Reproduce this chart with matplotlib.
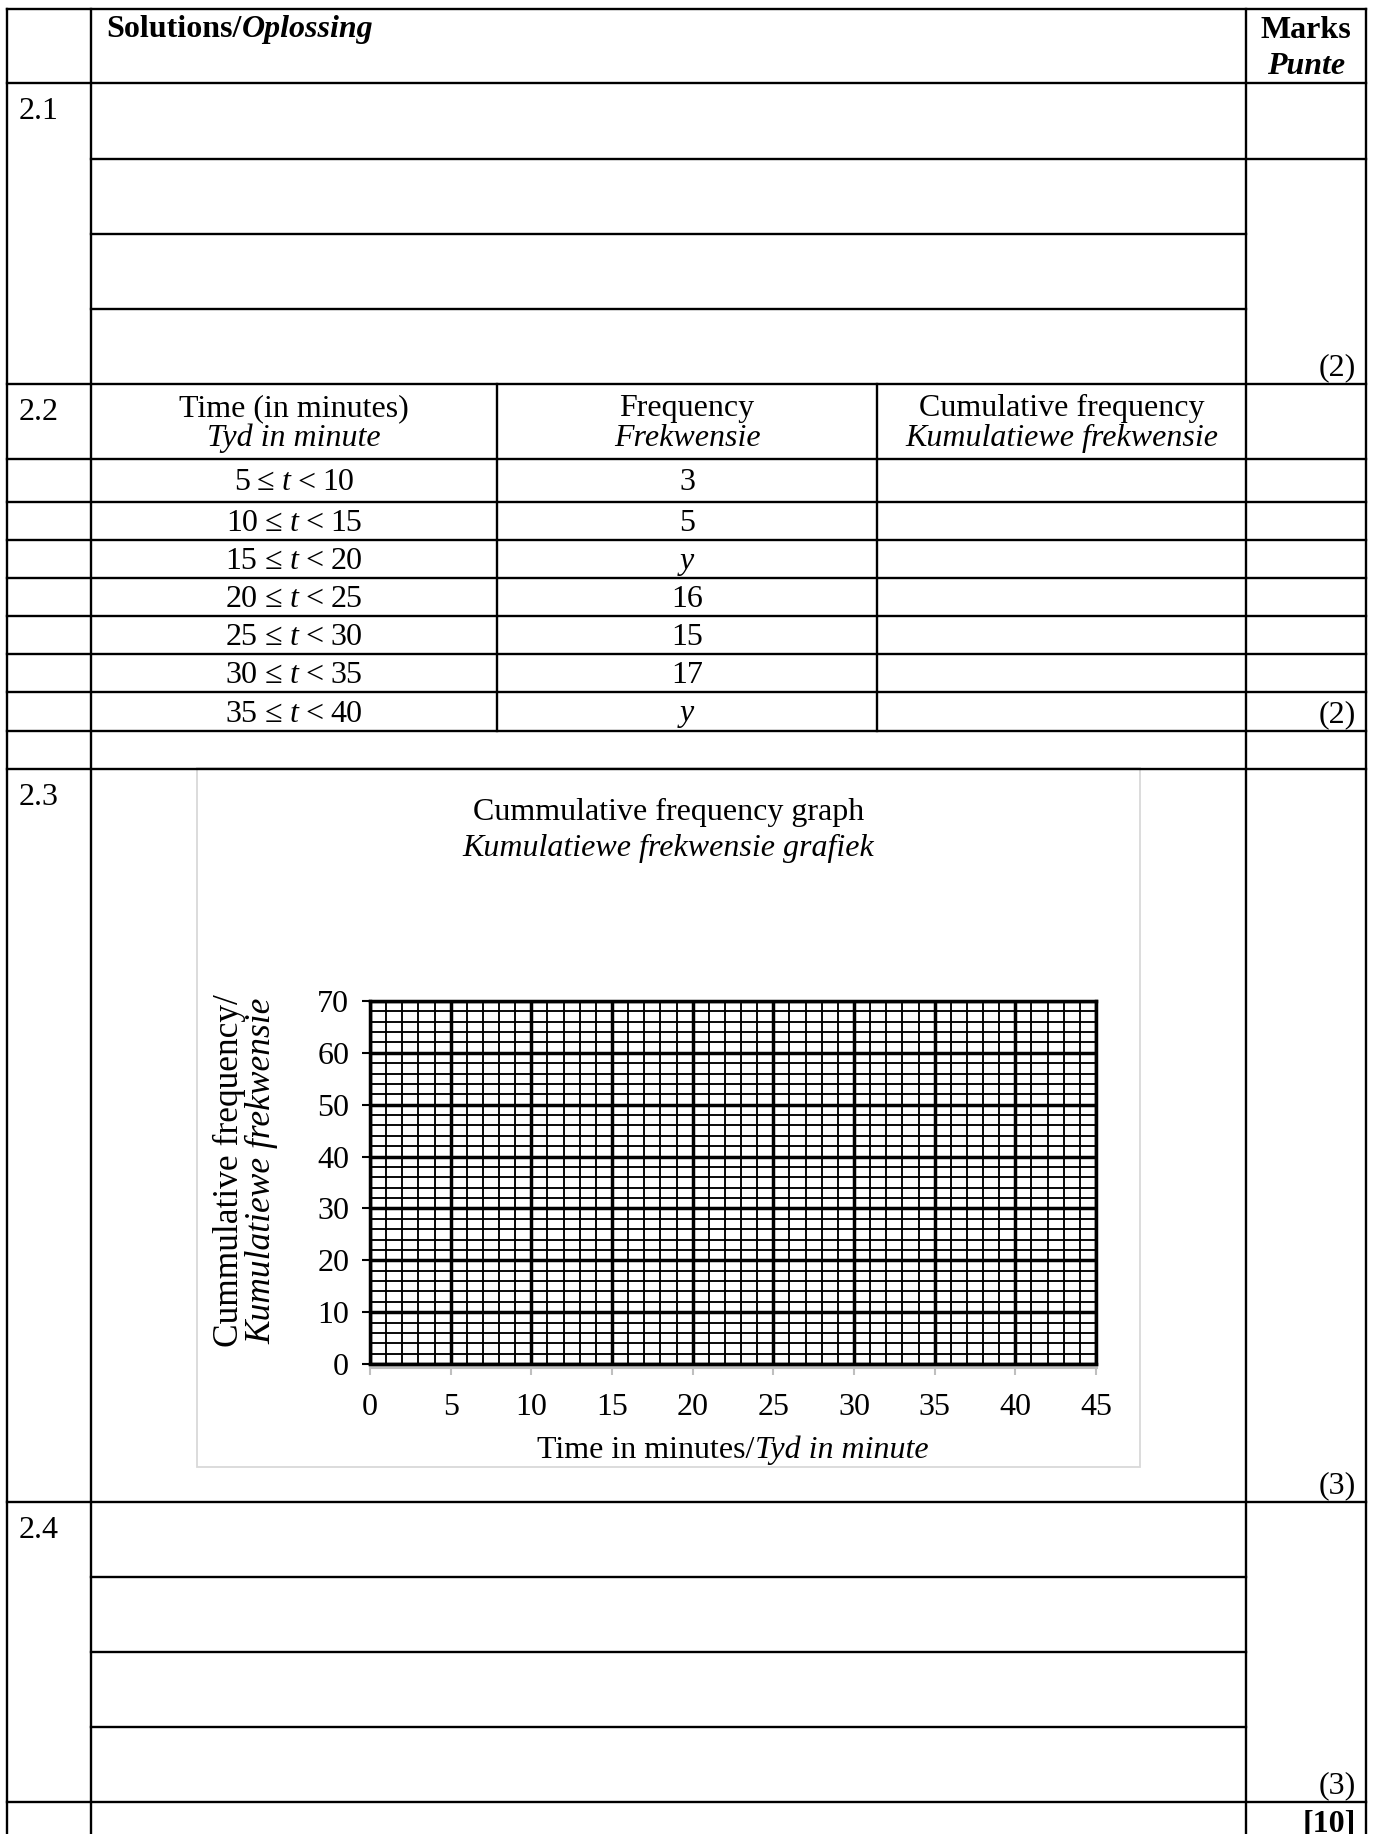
import matplotlib
matplotlib.use("Agg")
import matplotlib.pyplot as plt
from matplotlib.patches import Rectangle
from matplotlib.ticker import MultipleLocator

# ---------------- data ----------------
intervals_lo = [5, 10, 15, 20, 25, 30, 35]
intervals_hi = [10, 15, 20, 25, 30, 35, 40]
frequencies = ["3", "5", "y", "16", "15", "17", "y"]
x_ticks = [0, 5, 10, 15, 20, 25, 30, 35, 40, 45]
y_ticks = [0, 10, 20, 30, 40, 50, 60, 70]
section_labels = ["2.1", "2.2", "2.3", "2.4"]
marks = ["(2)", "(2)", "(3)", "(3)"]
total_marks = "[10]"

FAM = ["Liberation Serif", "DejaVu Serif"]
plt.rcParams["font.family"] = FAM
FS = 23
LW = 1.7

W, H = 1375, 1834
fig = plt.figure(figsize=(W / 100, H / 100), dpi=100)
page = fig.add_axes([0, 0, 1, 1])
page.set_xlim(0, W)
page.set_ylim(H, 0)
page.axis("off")
renderer = fig.canvas.get_renderer()

# layout (pixels)
XL, XI, XM, XR = 7, 91, 1246, 1366
XC1, XC2 = 497, 877
Y_TOP = 9


def hline(y, x0, x1, **kw):
    page.plot([x0, x1], [y, y], color="k", lw=LW, solid_capstyle="projecting", **kw)


def vline(x, y0, y1, **kw):
    page.plot([x, x], [y0, y1], color="k", lw=LW, solid_capstyle="projecting", **kw)


def segs(x, y, parts, ha="center", size=FS, gap=0.0):
    arts, widths = [], []
    for s, st, wt in parts:
        t = page.text(0, y, s, fontsize=size, style=st, weight=wt, family=FAM,
                      ha="left", va="baseline")
        bb = t.get_window_extent(renderer)
        arts.append(t)
        widths.append(bb.width)
    total = sum(widths) + gap * (len(parts) - 1)
    if ha == "center":
        x0 = x - total / 2
    elif ha == "left":
        x0 = x
    else:
        x0 = x - total
    for t, w in zip(arts, widths):
        t.set_x(x0)
        x0 += w + gap


def txt(x, y, s, ha="center", style="normal", weight="normal", size=FS, **kw):
    page.text(x, y, s, ha=ha, va="baseline", style=style, weight=weight,
              fontsize=size, family=FAM, **kw)


# outer verticals
for x in (XL, XI, XM, XR):
    vline(x, Y_TOP, H + 5)

# full horizontal lines
full_rows = [9, 83, 384, 459, 502, 540, 578, 616, 654, 692, 731, 769, 1502, 1802]
for y in full_rows:
    hline(y, XL, XR)
hline(159, XI, XR)
for y in (234, 309, 1577, 1652, 1727):
    hline(y, XI, XM)
for x in (XC1, XC2):
    vline(x, 384, 731)

# header
segs(106, 37, [("Solutions/", "normal", "bold"), ("Oplossing", "italic", "bold")], ha="left")
txt((XM + XR) / 2, 38, "Marks", weight="bold")
txt((XM + XR) / 2, 74, "Punte", style="italic", weight="bold")

# section labels
for lab, y in zip(section_labels, (83, 384, 769, 1502)):
    txt(19, y + 36, lab, ha="left")

# marks
for m, y in zip(marks, (375, 722, 1493, 1793)):
    txt(1356, y, m, ha="right")
txt(1356, 1831, total_marks, ha="right", weight="bold")

# table 2.2
c1 = (XI + XC1) / 2
c2 = (XC1 + XC2) / 2
c3 = (XC2 + XM) / 2
txt(c1, 416, "Time (in minutes)")
txt(c1, 446, "Tyd in minute", style="italic")
txt(c2, 416, "Frequency")
txt(c2, 446, "Frekwensie", style="italic")
txt(c3, 416, "Cumulative frequency")
txt(c3, 446, "Kumulatiewe frekwensie", style="italic")

row_edges = [459, 502, 540, 578, 616, 654, 692, 731]
for i, (lo, hi, f) in enumerate(zip(intervals_lo, intervals_hi, frequencies)):
    yb = (row_edges[i] + row_edges[i + 1]) / 2 + 10
    segs(c1, yb, [(str(lo), "normal", "normal"), ("\u2264", "normal", "normal"),
                  ("t", "italic", "normal"), ("<", "normal", "normal"),
                  (str(hi), "normal", "normal")], gap=7)
    txt(c2, yb, f, style="italic" if f == "y" else "normal")

# ---------------- chart ----------------
BX0, BY0, BX1, BY1 = 197, 768, 1140, 1467
page.add_patch(Rectangle((BX0, BY0), BX1 - BX0, BY1 - BY0, fill=False,
                         edgecolor="#D9D9D9", lw=1.3, zorder=1))
CX = (BX0 + BX1) / 2
txt(CX, 820, "Cummulative frequency graph")
txt(CX, 856, "Kumulatiewe frekwensie grafiek", style="italic")

PL, PR, PT, PB = 370, 1096, 1001, 1364
ax = fig.add_axes([PL / W, 1 - PB / H, (PR - PL) / W, (PB - PT) / H])
ax.set_xlim(x_ticks[0], x_ticks[-1])
ax.set_ylim(y_ticks[0], y_ticks[-1])
ax.set_xticks(x_ticks)
ax.set_yticks(y_ticks)
ax.set_xticklabels([str(v) for v in x_ticks], family=FAM)
ax.set_yticklabels([str(v) for v in y_ticks], family=FAM)
ax.xaxis.set_minor_locator(MultipleLocator(1))
ax.yaxis.set_minor_locator(MultipleLocator(2))
ax.grid(which="minor", color="black", lw=1.35)
ax.grid(which="major", color="black", lw=2.5)
ax.set_axisbelow(False)
ax.tick_params(which="minor", length=0)
ax.tick_params(axis="y", which="major", length=6, width=1.5, color="black",
               pad=9, labelsize=FS)
ax.tick_params(axis="x", which="major", length=6, width=1.5, color="#BFBFBF",
               pad=13, labelsize=FS, labelcolor="black")
for side in ("top", "right", "left"):
    ax.spines[side].set_color("black")
    ax.spines[side].set_linewidth(2.5)
ax.spines["bottom"].set_color("#BFBFBF")
ax.spines["bottom"].set_linewidth(2.2)
ax.spines["bottom"].set_position(("outward", 2))
ax.axhline(y_ticks[0], color="black", lw=2.5, clip_on=False, zorder=3)

# axis labels
segs((PL + PR) / 2, 1458, [("Time in minutes/", "normal", "normal"),
                           ("Tyd in minute", "italic", "normal")])
page.text(229, 1171, "Cummulative frequency/", rotation=90, ha="center", va="center",
          fontsize=25.5, family=FAM)
page.text(262, 1171, "Kumulatiewe frekwensie", rotation=90, ha="center", va="center",
          fontsize=25.5, family=FAM, style="italic")

fig.savefig("out.png", dpi=100)
